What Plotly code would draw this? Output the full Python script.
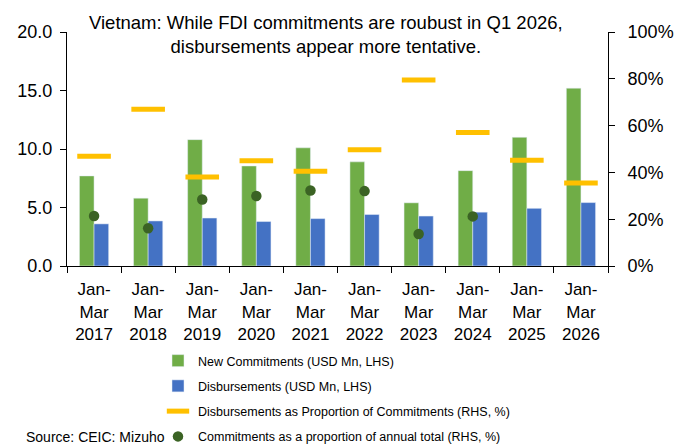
import plotly.graph_objects as go

categories = ["Jan-<br>Mar<br>2017", "Jan-<br>Mar<br>2018", "Jan-<br>Mar<br>2019", "Jan-<br>Mar<br>2020",
              "Jan-<br>Mar<br>2021", "Jan-<br>Mar<br>2022", "Jan-<br>Mar<br>2023", "Jan-<br>Mar<br>2024",
              "Jan-<br>Mar<br>2025", "Jan-<br>Mar<br>2026"]
new_commitments = [7.7, 5.8, 10.8, 8.55, 10.1, 8.9, 5.4, 8.15, 11.0, 15.2]
disbursements = [3.6, 3.85, 4.1, 3.8, 4.05, 4.4, 4.27, 4.6, 4.93, 5.42]
disb_prop = [0.469, 0.67, 0.38, 0.45, 0.405, 0.497, 0.795, 0.57, 0.452, 0.355]
commit_prop_annual = [0.214, 0.161, 0.284, 0.299, 0.323, 0.32, 0.137, 0.212, None, None]

FONT = "Liberation Sans, Arial, sans-serif"
# page body has an 8px default margin; work in window pixels and subtract it
OFF = 8
W, H = 689 - OFF, 446 - OFF
PL, PR = 67 - OFF, 608 - OFF
PT, PB = 32 - OFF, 266 - OFF
PW, PH = PR - PL, PB - PT


def px_x(x):
    return (x - OFF - PL) / PW


def px_y(y):
    return (PB - (y - OFF)) / PH


fig = go.Figure()
fig.add_trace(go.Bar(x=categories, y=new_commitments, name="New Commitments (USD Mn, LHS)",
                     marker=dict(color="#70AD47"), legendgroup="a"))
fig.add_trace(go.Bar(x=categories, y=disbursements, name="Disbursements (USD Mn, LHS)",
                     marker=dict(color="#4472C4"), legendgroup="b"))
fig.add_trace(go.Scatter(x=categories, y=disb_prop, yaxis="y2", mode="markers",
                         name="Disbursements as Proportion of Commitments (RHS, %)",
                         marker=dict(symbol="line-ew", size=24, line=dict(color="#FFC000", width=5)),
                         legendgroup="c"))
fig.add_trace(go.Scatter(x=categories, y=commit_prop_annual, yaxis="y2", mode="markers",
                         name="Commitments as a proportion of annual total (RHS, %)",
                         marker=dict(symbol="circle", size=10.5, color="#3B6324"),
                         legendgroup="d"))

fig.update_layout(
    width=W, height=H,
    margin=dict(l=PL, r=W - PR, t=PT, b=H - PB, autoexpand=False),
    paper_bgcolor="white", plot_bgcolor="white",
    font=dict(family=FONT, size=16, color="#000000"),
    barmode="group", bargap=0.46, bargroupgap=0,
    xaxis=dict(type="category", range=[-0.5, 9.5], tickson="boundaries", ticks="outside", ticklen=6,
               tickcolor="black", showline=True, linecolor="black", linewidth=1, showgrid=False,
               ticklabelstandoff=8, tickfont=dict(family=FONT, size=17)),
    yaxis=dict(range=[0, 20], dtick=5, tickformat=".1f", ticks="outside", ticklen=6, tickcolor="black",
               showline=True, linecolor="black", linewidth=1, showgrid=False, zeroline=False,
               ticklabelstandoff=4, tickfont=dict(family=FONT, size=18)),
    yaxis2=dict(range=[0, 1], dtick=0.2, tickformat=".0%", overlaying="y", side="right",
                ticks="outside", ticklen=6, tickcolor="black",
                showline=True, linecolor="black", linewidth=1, showgrid=False, zeroline=False,
                ticklabelstandoff=9, tickfont=dict(family=FONT, size=18)),
    legend=dict(x=px_x(158), xanchor="left", y=px_y(346), yanchor="top",
                traceorder="grouped", tracegroupgap=6,
                font=dict(family=FONT, size=12.5),
                bgcolor="rgba(0,0,0,0)"),
    showlegend=True,
)

fig.add_annotation(text="Vietnam: While FDI commitments are roubust in Q1 2026,<br>disbursements appear more tentative.",
                   xref="paper", yref="paper", x=px_x(326), y=px_y(10),
                   xanchor="center", yanchor="top", showarrow=False, align="center",
                   font=dict(family=FONT, size=18.5, color="#000000"))

fig.add_annotation(text="Source: CEIC: Mizuho", xref="paper", yref="paper",
                   x=px_x(24), y=px_y(437), xanchor="left", yanchor="middle",
                   showarrow=False, font=dict(family=FONT, size=14, color="#000000"))

fig.write_html("out.html")
